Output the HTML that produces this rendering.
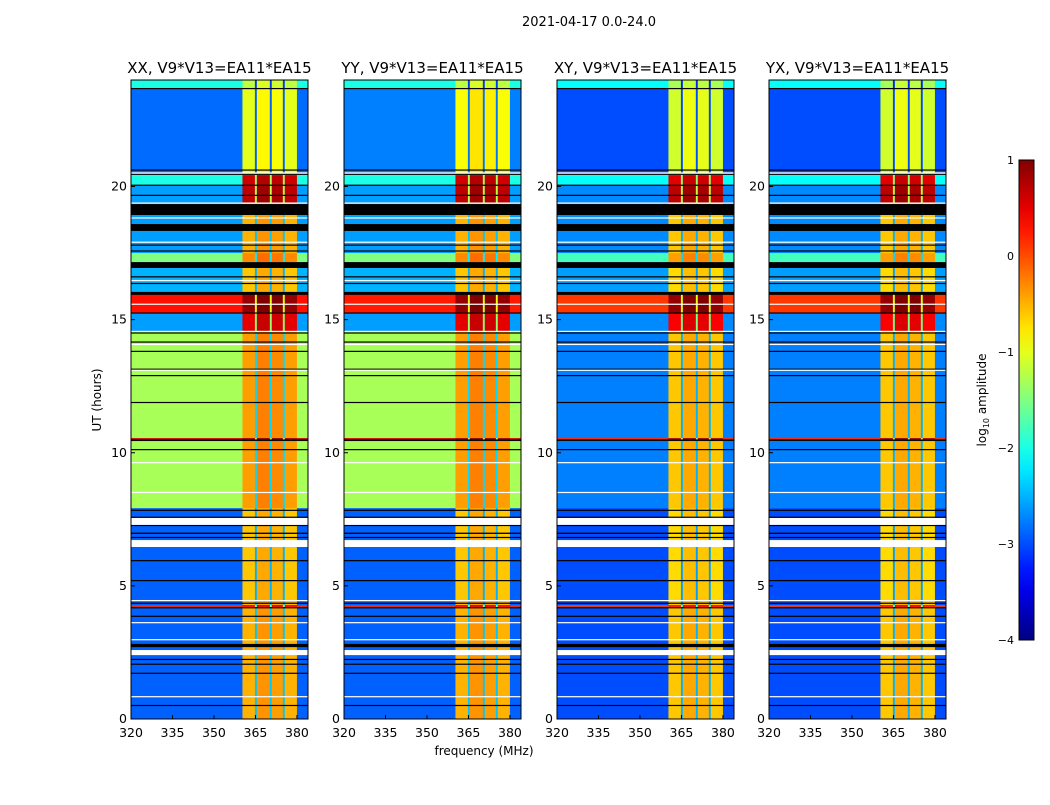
<!DOCTYPE html>
<html><head><meta charset="utf-8">
<style>
body{margin:0;background:#fff;}
svg text{font-family:"DejaVu Sans","Liberation Sans",sans-serif;}
</style></head>
<body>
<svg id="fig" width="1050" height="800" xmlns="http://www.w3.org/2000/svg">
<rect width="1050" height="800" fill="#fff"/>
<text x="589" y="26" font-size="13" text-anchor="middle">2021-04-17 0.0-24.0</text>
<text x="484" y="755" font-size="12" text-anchor="middle">frequency (MHz)</text>
<text x="101" y="400" font-size="12" text-anchor="middle" transform="rotate(-90 101 400)">UT (hours)</text>
<g id="panels"></g>
<g id="cbar"></g>
</svg>
<script>
// ---- data ----
const panelTitles = ["XX, V9*V13=EA11*EA15","YY, V9*V13=EA11*EA15","XY, V9*V13=EA11*EA15","YX, V9*V13=EA11*EA15"];
const xTicks = [320,335,350,365,380];
const yTicks = [0,5,10,15,20];
const cbarTicks = [1,0,-1,-2,-3,-4];
const colStart = [320,360.3,364.8,365.5,370.2,370.9,374.9,375.6,380];
const colEnd   = [360.3,364.8,365.5,370.2,370.9,374.9,375.6,380,384];
const colIsBand= [0,1,1,1,1,1,1,1,0];
const colBoost = [0,0,-1.9,0.15,-1.9,0.1,-1.9,0,0];
const segStart = [23.70,20.54,20.06,19.38,17.50,17.16,16.04,15.25,14.57,10.55,10.44,7.92,4.47,4.28,4.21,0];
const segEnd   = [24.00,23.70,20.43,20.06,19.38,17.50,17.16,16.04,15.25,14.57,10.55,10.44,7.92,4.47,4.28,4.21];
const bgXX  = [-2.0,-2.85,-2.0,-2.6,-2.6,-1.5,-2.5,0.3,-2.6,-1.3,0.6,-1.3,-2.9,-2.9,0.2,-2.9];
const bgYY  = [-2.0,-2.75,-2.0,-2.6,-2.6,-1.5,-2.5,0.25,-2.6,-1.3,0.6,-1.3,-2.9,-2.9,0.2,-2.9];
const bgXY  = [-2.1,-3.0,-2.1,-2.7,-2.7,-1.8,-2.6,0.1,-2.7,-2.75,0.2,-2.75,-3.0,-3.0,0.1,-3.0];
const bgYX  = [-2.1,-3.0,-2.1,-2.7,-2.7,-1.8,-2.6,0.1,-2.7,-2.75,0.2,-2.75,-3.0,-3.0,0.1,-3.0];
const bandXX= [-1.2,-1.0,0.6,0.7,-0.5,-0.3,-0.6,0.9,0.5,-0.4,0.9,-0.4,-0.6,-0.5,0.4,-0.5];
const bandYY= [-1.2,-0.9,0.6,0.7,-0.5,-0.3,-0.6,0.9,0.5,-0.4,0.9,-0.4,-0.6,-0.5,0.4,-0.5];
const bandXY= [-1.3,-1.1,0.5,0.7,-0.6,-0.4,-0.7,0.9,0.4,-0.6,0.8,-0.6,-0.7,-0.6,0.3,-0.6];
const bandYX= [-1.3,-1.1,0.5,0.7,-0.6,-0.4,-0.7,0.9,0.4,-0.6,0.8,-0.6,-0.7,-0.6,0.3,-0.6];
const blackStart=[23.66,20.60,20.45,20.04,19.66,18.93,18.33,17.78,17.56,16.94,16.60,16.35,15.93,15.24,14.48,14.15,13.80,13.14,12.89,11.88,10.44,10.11,7.83,7.57,7.26,6.95,6.80,5.93,5.19,4.34,4.17,3.85,2.70,2.23,2.05,1.71,0.50];
const blackEnd  =[23.70,20.64,20.48,20.07,19.69,19.34,18.59,17.82,17.60,17.16,16.63,16.38,16.04,15.27,14.52,14.18,13.83,13.16,12.92,11.91,10.50,10.14,7.86,7.60,7.29,7.00,6.84,5.97,5.22,4.37,4.20,3.88,2.82,2.26,2.08,1.74,0.53];
const whiteStart=[20.50,19.36,18.80,17.90,16.45,15.57,14.55,14.06,13.08,9.62,8.49,7.29,6.46,4.43,3.61,2.97,2.40,0.83];
const whiteEnd  =[20.53,19.40,18.84,17.93,16.49,15.60,14.58,14.09,13.12,9.65,8.53,7.55,6.72,4.47,3.64,3.00,2.59,0.86];
const bgLevels=[bgXX,bgYY,bgXY,bgYX];
const bandLevels=[bandXX,bandYY,bandXY,bandYX];

// ---- layout ----
const NS="http://www.w3.org/2000/svg";
const panelX=[131,344,557,769], panelW=177, plotTop=80, plotBottom=719;
const fMin=320,fMax=384,tMin=0,tMax=24,vMin=-4,vMax=1;
function jet(v){let t=Math.max(0,Math.min(1,(v-vMin)/(vMax-vMin)));
 const c=x=>Math.round(255*Math.max(0,Math.min(1,x)));
 return `rgb(${c(1.5-Math.abs(4*t-3))},${c(1.5-Math.abs(4*t-2))},${c(1.5-Math.abs(4*t-1))})`;}
function mk(tag,attrs,parent){const e=document.createElementNS(NS,tag);for(const k in attrs)e.setAttribute(k,attrs[k]);parent.appendChild(e);return e;}
const root=document.getElementById('panels');
panelTitles.forEach((title,p)=>{
 const x0=panelX[p];
 const xs=f=>x0+(f-fMin)/(fMax-fMin)*panelW;
 const ys=t=>plotBottom-(t-tMin)/(tMax-tMin)*(plotBottom-plotTop);
 const g=mk('g',{},root);
 
 
 const hm=mk('g',{},g);
 
 
 for(let s=0;s<segStart.length;s++){
  for(let c=0;c<colStart.length;c++){
   const v=colIsBand[c]?bandLevels[p][s]+colBoost[c]:bgLevels[p][s];
   const r=mk('rect',{x:xs(colStart[c]),y:ys(segEnd[s]),width:xs(colEnd[c])-xs(colStart[c])+0.3,height:ys(segStart[s])-ys(segEnd[s])+0.3,fill:jet(v)},hm);
   
   
  }
 }
 for(let i=0;i<blackStart.length;i++){
  const r=mk('rect',{x:x0,y:ys(blackEnd[i]),width:panelW,height:Math.max(1.2,ys(blackStart[i])-ys(blackEnd[i])),fill:'#000'},hm);
  
  
 }
 for(let i=0;i<whiteStart.length;i++){
  const r=mk('rect',{x:x0,y:ys(whiteEnd[i]),width:panelW,height:Math.max(1.2,ys(whiteStart[i])-ys(whiteEnd[i])),fill:'#fff'},hm);
  
  
 }
 const fr=mk('rect',{x:x0,y:plotTop,width:panelW,height:plotBottom-plotTop,fill:'none',stroke:'#000','stroke-width':1},g);
 
 
 const tt=mk('text',{x:x0+panelW/2,y:73,'font-size':15,'text-anchor':'middle'},g);
 tt.textContent=title;
 
 
 xTicks.forEach(f=>{
  const l=mk('line',{x1:xs(f),x2:xs(f),y1:plotBottom,y2:plotBottom-4,stroke:'#000'},g);
  
  
  const t=mk('text',{x:xs(f),y:737,'font-size':12.5,'text-anchor':'middle'},g);
  t.textContent=f;
  
  
 });
 yTicks.forEach(h=>{
  const l=mk('line',{x1:x0,x2:x0+4,y1:ys(h),y2:ys(h),stroke:'#000'},g);
  
  
  const t=mk('text',{x:x0-4,y:ys(h)+4,'font-size':12.5,'text-anchor':'end'},g);
  t.textContent=h;
  
  
 });
});
// colorbar
const cb=document.getElementById('cbar');
const cbX=1019,cbW=15,cbTop=160,cbBot=640;
const defs=mk('defs',{},cb);
const grad=mk('linearGradient',{id:'jetg',x1:0,y1:1,x2:0,y2:0},defs);
for(let i=0;i<=20;i++){mk('stop',{offset:i/20,'stop-color':jet(vMin+(vMax-vMin)*i/20)},grad);}
const cbr=mk('rect',{x:cbX,y:cbTop,width:cbW,height:cbBot-cbTop,fill:'url(#jetg)',stroke:'#000'},cb);


cbarTicks.forEach(v=>{
 const y=cbBot-(v-vMin)/(vMax-vMin)*(cbBot-cbTop);
 const t=mk('text',{x:cbX-5,y:y+4,'font-size':11,'text-anchor':'end'},cb);
 t.textContent=(v<0?'\u2212'+(-v):String(v));
 
 
});
const cl=mk('text',{x:986,y:400,'font-size':12,'text-anchor':'middle',transform:'rotate(-90 986 400)'},cb);


const ct1=mk('tspan',{},cl); ct1.textContent='log';
const ct2=mk('tspan',{'font-size':8,dy:3},cl); ct2.textContent='10';
const ct3=mk('tspan',{dy:-3},cl); ct3.textContent=' amplitude';
</script>
</body></html>
